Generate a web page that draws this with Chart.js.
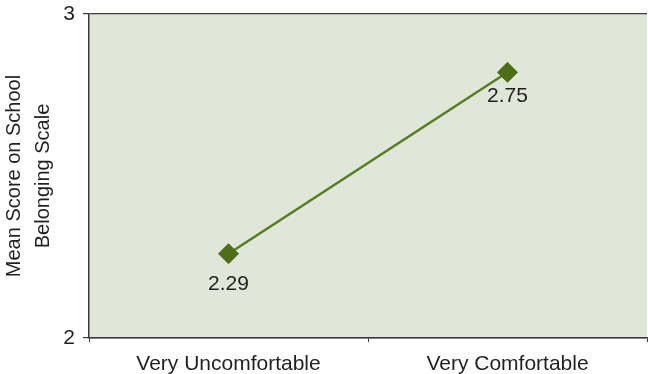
<!DOCTYPE html>
<html>
<head>
<meta charset="utf-8">
<script src="https://cdn.jsdelivr.net/npm/chart.js@4/dist/chart.umd.min.js"></script>
<style>
  html, body { margin: 0; padding: 0; background: #fff; }
  #wrap { width: 648px; height: 374px; }
</style>
</head>
<body>
<div id="wrap"><canvas id="chart" width="648" height="374"></canvas></div>
<script>
// categories and values (marker heights, printed labels as shown)
const categories = ['Very Uncomfortable', 'Very Comfortable'];
const meanScores = [2.26, 2.82];
const scoreLabels = ['2.29', '2.75'];
const yTicks = [2, 3];

const axisColor = '#3a3a3a';
const textColor = '#231f20';
const fontFamily = '"Liberation Sans", Arial, sans-serif';

// fill plot area with pale green
const plotBg = {
  id: 'plotBg',
  beforeDraw(chart) {
    const { ctx, chartArea: a } = chart;
    ctx.save();
    ctx.fillStyle = '#e1e7d8';
    ctx.fillRect(a.left, a.top, a.right - a.left, a.bottom - a.top);
    ctx.restore();
  }
};

// value text under each marker
const valueLabels = {
  id: 'valueLabels',
  afterDatasetsDraw(chart, args, opts) {
    const { ctx } = chart;
    const meta = chart.getDatasetMeta(0);
    ctx.save();
    ctx.font = '21px ' + fontFamily;
    ctx.fillStyle = textColor;
    ctx.textAlign = 'center';
    ctx.textBaseline = 'middle';
    meta.data.forEach((pt, i) => {
      ctx.fillText(scoreLabels[i], pt.x, pt.y + opts.offsets[i]);
    });
    ctx.restore();
  }
};

new Chart(document.getElementById('chart').getContext('2d'), {
  type: 'line',
  data: {
    labels: categories,
    datasets: [{
      data: meanScores,
      borderColor: '#557d22',
      borderWidth: 2.5,
      pointStyle: 'rectRot',
      pointRadius: 10,
      pointBackgroundColor: '#4e6e1a',
      pointBorderColor: '#4e6e1a',
      pointBorderWidth: 1,
      tension: 0
    }]
  },
  options: {
    responsive: false,
    animation: false,
    layout: { autoPadding: false, padding: { top: 14, right: 1, left: 0, bottom: 0 } },
    plugins: {
      legend: { display: false },
      tooltip: { enabled: false },
      valueLabels: { offsets: [30, 24] }
    },
    scales: {
      x: {
        type: 'category',
        offset: true,
        grid: {
          offset: true,
          drawOnChartArea: false,
          color: axisColor,
          tickLength: 4
        },
        border: { color: axisColor, width: 1.5 },
        ticks: {
          color: textColor,
          font: { family: fontFamily, size: 21 },
          padding: 10,
          maxRotation: 0
        },
        afterFit(scale) {
          scale.height = 36;
          scale.paddingLeft = 0;
          scale.paddingRight = 0;
        }
      },
      y: {
        min: 2,
        max: 3,
        afterBuildTicks(scale) { scale.ticks = yTicks.map(v => ({ value: v })); },
        grid: { color: axisColor, tickLength: 6, lineWidth: 1.2 },
        border: { color: axisColor, width: 1.5 },
        ticks: {
          color: textColor,
          font: { family: fontFamily, size: 21 },
          padding: 8
        },
        title: {
          display: true,
          text: ['Mean Score on School', 'Belonging Scale'],
          color: textColor,
          font: { family: fontFamily, size: 20, lineHeight: 1.45 },
          padding: { top: 0, bottom: 0 }
        },
        afterFit(scale) {
          scale.width = 89;
          scale.paddingTop = 0;
          scale.paddingBottom = 0;
        }
      }
    }
  },
  plugins: [plotBg, valueLabels]
});
</script>
</body>
</html>
